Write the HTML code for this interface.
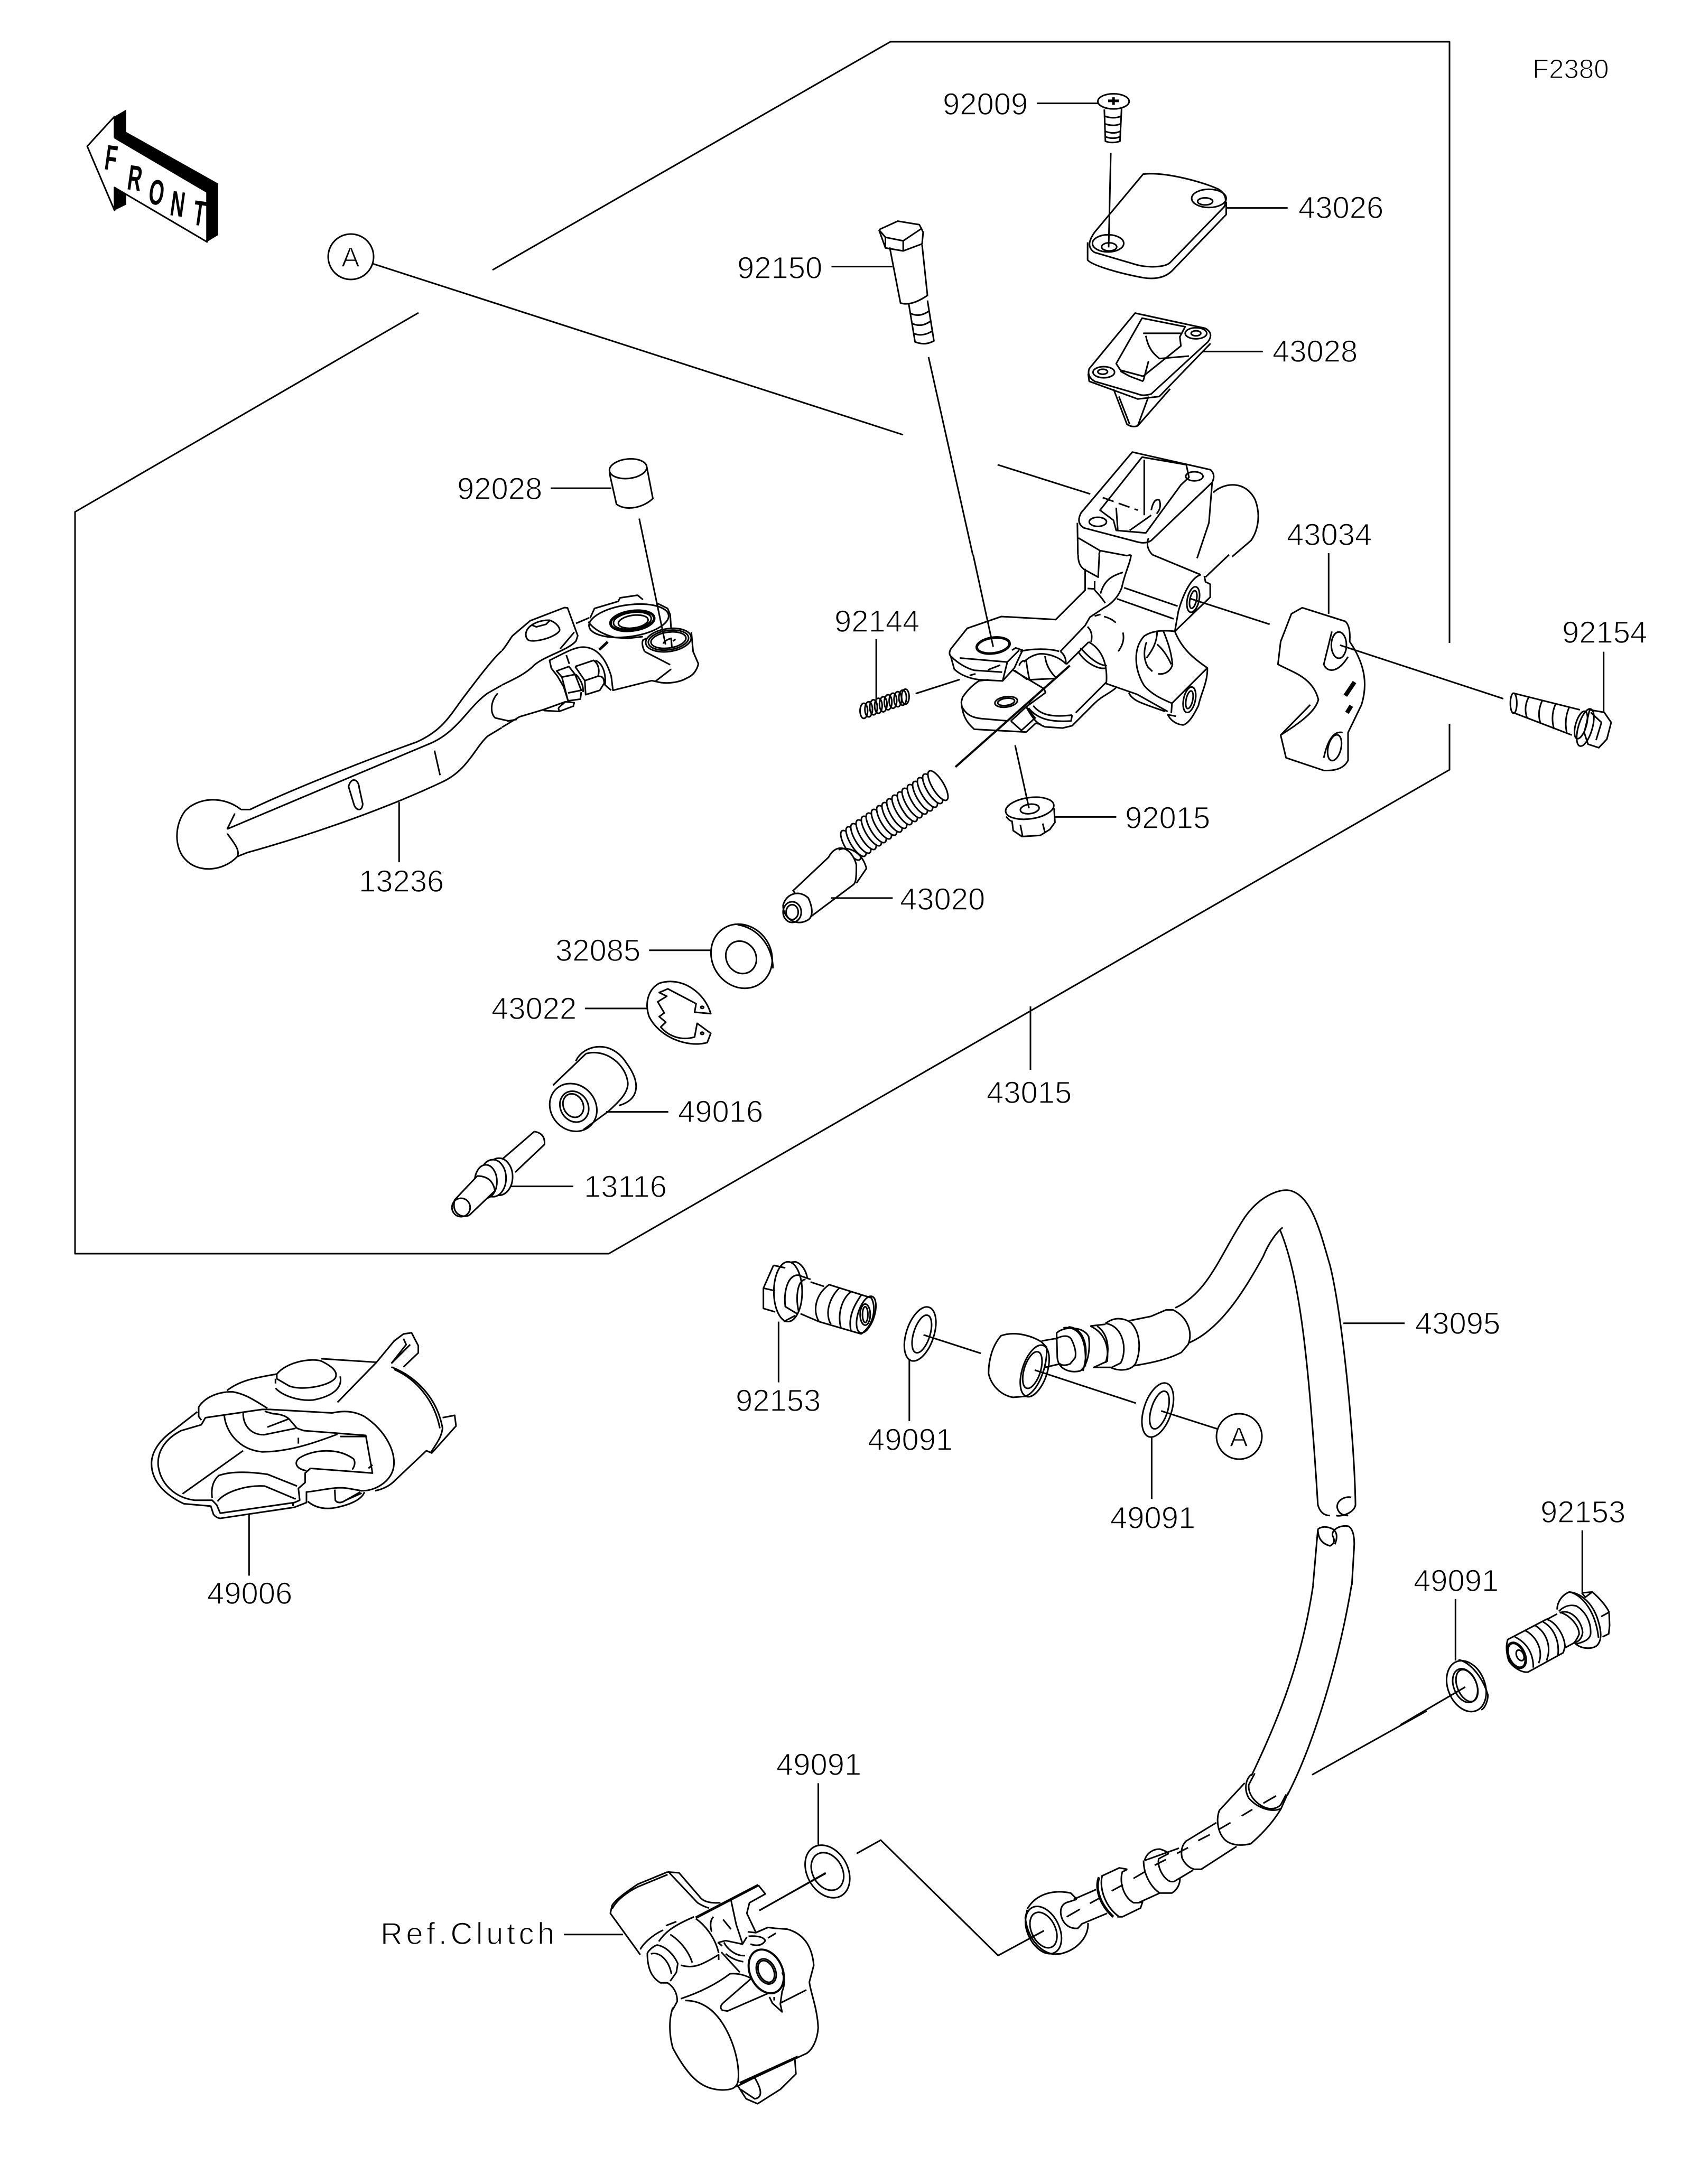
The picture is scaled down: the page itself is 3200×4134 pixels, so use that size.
<!DOCTYPE html>
<html><head><meta charset="utf-8">
<style>
html,body{margin:0;padding:0;background:#fff}
svg{display:block}
path,ellipse,line,polyline,circle,polygon{vector-effect:non-scaling-stroke}
.l{fill:none;stroke:#000;stroke-width:3;stroke-linejoin:round;stroke-linecap:butt}
.t{fill:none;stroke:#000;stroke-width:5;stroke-linejoin:round}
.w{fill:#fff;stroke:#000;stroke-width:3}
text{font-family:"Liberation Sans",sans-serif;font-size:58px;fill:#000;stroke:#fff;stroke-width:1.4}
.f{font-size:67px;font-weight:bold;stroke:none}
</style></head><body>
<svg xmlns="http://www.w3.org/2000/svg" width="3200" height="4134" viewBox="0 0 3200 4134">
<rect width="3200" height="4134" fill="#fff"/>

<!-- frame and long leaders -->
<path class="l" d="M932,511L1685,79H2743V1217M2743,1370V1457L1152,2373H142V969L792,592M705,499L1709,823"/>

<!-- lever and dowel -->
<g transform="translate(100 60) scale(.9566 1.0842)">
<path class="l" d="M372,1358C340,1335 290,1335 262,1360C240,1385 240,1425 262,1445C285,1468 335,1468 365,1440M365,1440L385,1433C500,1405 650,1360 770,1310C820,1290 835,1250 860,1230L888,1215M372,1358L390,1358C480,1320 640,1265 720,1240C770,1220 785,1195 810,1165C840,1130 870,1095 888,1081M888,1141L860,1155C820,1180 800,1225 740,1245L345,1392M345,1392L360,1365M345,1400C362,1420 370,1430 365,1440"/>
<path class="l" d="M585,1318C590,1300 605,1305 606,1320L613,1348C612,1362 600,1360 596,1350ZM755,1255L766,1298M880,1155C865,1170 865,1190 875,1198L900,1203"/>
<ellipse class="l" cx="1138" cy="763" rx="37" ry="17" transform="rotate(-5 1138 763)"/>
<path class="l" d="M1101,770L1115,825C1135,838 1170,830 1187,815L1175,760M985,797H1105M1160,850L1212,1070M685,1345V1450"/>
<polygon points="122,148 145,136 145,175 327,265 327,355 305,367 305,280 122,185" fill="#000"/>
<polygon points="122,272 145,285 145,302 122,312" fill="#000"/>
<path class="l" d="M122,185L122,148L68,200L122,312L122,272L305,367L305,280L122,185"/>
</g>
<text class="f" transform="translate(196 320) rotate(8) scale(.55 1)">F</text>
<text class="f" transform="translate(239 358) rotate(8) scale(.55 1)">R</text>
<text class="f" transform="translate(279 385) rotate(8) scale(.55 1)">O</text>
<text class="f" transform="translate(320 407) rotate(8) scale(.55 1)">N</text>
<text class="f" transform="translate(363 425) rotate(8) scale(.55 1)">T</text>

<!-- lever pivot -->
<g transform="translate(950 1080) scale(.3333)">
<path class="l" d="M0,455C30,420 50,380 60,370L160,285L355,210L372,212L430,370L420,400C380,450 230,490 180,540C130,590 60,620 0,650M420,300L495,268"/>
<path class="l" d="M135,360C140,310 210,280 270,282C310,295 335,330 325,345C290,385 180,410 150,395Q135,385 135,360ZM170,310L195,320L250,305L270,285M410,350L330,445"/>
<ellipse class="l" cx="720" cy="285" rx="228" ry="90" transform="rotate(-8 720 285)"/>
<path class="l" d="M500,270L525,215L660,175L670,155L770,140L800,165M880,185L940,215L955,250L960,330M490,290Q530,350 640,380L715,385L800,375"/>
<ellipse class="t" cx="740" cy="285" rx="125" ry="55" transform="rotate(-8 740 285)"/>
<ellipse class="l" cx="740" cy="285" rx="108" ry="47" transform="rotate(-8 740 285)"/>
<ellipse class="l" cx="745" cy="290" rx="85" ry="36" transform="rotate(-8 745 290)"/>
<ellipse class="l" cx="945" cy="395" rx="130" ry="65" transform="rotate(-8 945 395)"/>
<ellipse class="l" cx="945" cy="395" rx="115" ry="55" transform="rotate(-8 945 395)"/>
<ellipse class="l" cx="945" cy="395" rx="100" ry="45" transform="rotate(-8 945 395)"/>
<path class="l" d="M915,415Q925,395 960,385L965,440M970,400L985,390M1075,350L1085,460L1115,530Q1100,590 1050,610C1000,640 920,645 875,630L850,625L630,680L620,600C590,500 540,440 470,435C420,430 370,460 270,510L280,555L315,600L350,660L375,740L445,730L450,690M810,460L955,535M960,560L870,630M810,460Q790,420 800,395L820,385"/>
<path class="t" d="M552,450L600,405"/>
<path class="l" d="M365,480L382,530M310,570L380,545L415,590L340,605ZM340,605L375,740M415,590L450,680L375,695M415,545L520,510C550,530 555,570 545,600L470,625M415,545L470,625L475,705L555,680L580,640C580,600 560,600 545,600M420,590Q465,640 460,690M530,510C580,530 590,600 585,650L620,680M235,790L360,745L410,750L405,770L325,800L240,795ZM320,780L360,745M320,780L325,800M235,790L100,830L0,890M30,855L85,845"/>
</g>

<!-- top parts -->
<g transform="translate(1500 100) scale(1.0204 .9566)">
<ellipse class="l" cx="595" cy="96" rx="29" ry="15"/>
<path class="t" d="M585,95H605M595,88V103"/>
<path class="l" d="M578,112L580,175Q592,180 607,175L610,110M578,125Q595,132 610,125M578,140Q595,147 609,140M579,155Q595,162 608,155M580,166Q595,172 607,166M453,100H568M590,198L586,385"/>
<path class="l" d="M650,240C690,235 760,255 790,270C805,280 805,295 800,305L700,415C690,425 660,425 640,420L560,395C545,385 550,370 560,355ZM547,375L547,410C555,420 600,435 650,445C680,450 695,440 703,432L804,320V295M805,307H918"/>
<ellipse class="l" cx="772" cy="288" rx="32" ry="18"/><ellipse class="l" cx="765" cy="294" rx="14" ry="7"/>
<ellipse class="l" cx="585" cy="377" rx="29" ry="17"/><ellipse class="l" cx="587" cy="384" rx="14" ry="8"/>
<path class="l" d="M635,515L765,545Q782,555 770,572L665,675Q650,680 640,675L560,650Q545,640 550,625ZM648,525L728,542L718,562L720,580L650,640L608,628L600,615ZM650,555H720M655,560C660,590 675,600 680,605L735,600M660,610L650,650M608,630L625,640L650,650M595,665L620,735Q630,742 640,738L700,665M605,680L625,735M640,738L660,680M548,635L550,650L640,685L680,680L775,575M760,591H872"/>
<ellipse class="w" cx="577" cy="632" rx="20" ry="11"/><ellipse class="l" cx="575" cy="631" rx="9" ry="5"/>
<ellipse class="w" cx="748" cy="555" rx="20" ry="11"/><ellipse class="l" cx="748" cy="555" rx="9" ry="5"/>
<path class="l" d="M630,790L775,825Q785,835 778,850L665,965Q655,972 640,968L540,940Q525,930 535,910ZM648,800L730,815L735,840L720,855L655,950L600,945L595,925L570,905Z"/>
<ellipse class="l" cx="745" cy="838" rx="16" ry="9"/><ellipse class="l" cx="566" cy="928" rx="16" ry="9"/>
<path class="l" d="M652,805V915M600,900L603,945M625,945L665,915M665,905Q670,880 680,885Q685,900 675,912M380,815L552,873"/>
<path class="l" stroke-dasharray="22 10" d="M575,880L640,905"/>
<path class="l" d="M780,870C800,850 840,845 858,885C870,920 860,950 850,965L815,997M778,850L772,930L750,1000M528,930L529,993M530,960L570,985L620,995L627,993M570,985L568,993M660,960C655,975 660,985 667,993"/>
<!-- clamp -->
<path class="l" d="M945,1098L1025,1125Q1035,1135 1033,1165C1065,1215 1065,1255 1055,1290L1030,1345V1400Q1020,1422 985,1420L915,1395L905,1350C950,1320 970,1300 975,1280C965,1235 925,1225 900,1210L905,1165L925,1110ZM1000,1145L985,1210C990,1225 1010,1230 1030,1195M1020,1345C1000,1340 990,1370 985,1395M905,1350L960,1290"/>
<ellipse class="l" cx="1013" cy="1172" rx="14" ry="26"/><ellipse class="l" cx="1005" cy="1375" rx="12" ry="26" transform="rotate(12 1005 1375)"/>
<path d="M1025,1272L1042,1245M1028,1306L1036,1292" fill="none" stroke="#000" stroke-width="8" style="vector-effect:non-scaling-stroke"/>
<path class="l" d="M994,990V1110M1015,1172L1318,1278M252,602L334,993"/>
<!-- 92150 -->
<path class="l" d="M160,350L195,333L235,340L242,355L240,378L205,392L172,386L160,350M160,350L172,365L205,372L240,347M172,365V386M205,372V392M180,385L200,495Q220,502 250,480L240,380M215,495L227,572Q245,580 262,570L250,490M218,515Q235,525 254,510M221,535Q238,545 257,530M224,555Q240,563 260,550M72,423H185"/>
<!-- spring -->
<g class="l">
<ellipse cx="132" cy="1302" rx="7" ry="15"/><ellipse cx="141" cy="1299" rx="7" ry="15"/><ellipse cx="150" cy="1295" rx="7" ry="15"/><ellipse cx="159" cy="1292" rx="7" ry="15"/><ellipse cx="168" cy="1289" rx="7" ry="15"/><ellipse cx="177" cy="1285" rx="7" ry="15"/><ellipse cx="186" cy="1282" rx="7" ry="15"/><ellipse cx="195" cy="1279" rx="7" ry="15"/><ellipse cx="204" cy="1276" rx="7" ry="15"/><ellipse cx="209" cy="1274" rx="7" ry="15"/>
</g>
<path class="l" d="M155,1160V1280M228,1268L310,1240"/>
<!-- 92154 -->
<path class="l" d="M1340,1268L1460,1300M1335,1305L1445,1350M1365,1275Q1355,1295 1362,1316M1390,1282Q1380,1305 1387,1327M1415,1288Q1405,1312 1412,1338M1440,1295Q1430,1320 1436,1347M1478,1300L1505,1305L1518,1325L1510,1358L1495,1375L1475,1368L1468,1345L1478,1300ZM1480,1305L1500,1325L1490,1360M1504,1185V1305"/>
<ellipse class="l" cx="1337" cy="1287" rx="6" ry="20"/>
<ellipse class="l" cx="1470" cy="1335" rx="13" ry="38" transform="rotate(15 1470 1335)"/>
<ellipse class="l" cx="1462" cy="1330" rx="10" ry="28" transform="rotate(15 1462 1330)"/>
</g>

<!-- master cylinder body, fork, nut -->
<g transform="translate(1750 1050) scale(.4464)">
<path class="l" d="M205,0L290,390"/>
<path class="l" d="M650,0C650,35 660,50 675,62L735,95L740,0M680,60V150L555,275L325,262L180,312L110,400Q100,420 110,430L125,485C150,510 190,525 230,530L330,535L380,480L405,425L415,405L385,395L370,405M110,430C150,470 190,485 210,490L328,498M148,438L350,455M350,455L330,535M350,455L400,405M190,512L215,505M268,488L320,468"/>
<path class="l" d="M720,145L690,143M720,112V150M875,0C870,40 850,70 835,140C820,180 790,210 760,225L700,265L680,300L575,410M840,75C790,90 760,110 745,165M720,150Q745,175 765,205M845,140L1072,218M815,187L1055,272M965,0L1170,85M1170,85C1135,95 1100,150 1075,240L1060,325L1210,180V125L1190,115L1185,90M1190,95L1290,0"/>
<ellipse class="l" cx="1138" cy="190" rx="25" ry="55" transform="rotate(12 1138 190)"/>
<ellipse class="l" cx="1138" cy="190" rx="14" ry="38" transform="rotate(12 1138 190)"/>
<path class="l" d="M1122,185L1462,295M720,260L745,253M760,262Q790,270 810,288M840,330Q850,370 820,410M690,305Q715,330 705,370"/>
<path class="l" d="M1060,325C1000,318 960,325 930,345C880,400 890,490 930,555C960,590 1000,610 1048,630L1198,480C1200,540 1170,590 1160,640C1140,680 1120,715 1095,722C1065,720 1040,700 1030,678L1065,685M1060,325C1090,400 1140,440 1198,480M1048,630L1045,672M985,325C985,370 965,405 940,438M940,370Q920,430 945,475L965,495M1010,320C1030,370 1045,410 1050,465C1045,490 1020,510 990,505M985,380Q1020,410 1045,465"/>
<ellipse class="l" cx="1122" cy="615" rx="25" ry="55" transform="rotate(12 1122 615)"/>
<ellipse class="l" cx="1122" cy="615" rx="14" ry="38" transform="rotate(12 1122 615)"/>
<path class="l" d="M765,545L900,592L1030,665M865,585C880,620 920,630 1020,665M810,565C780,590 750,600 720,630L625,725L585,735L510,730C480,720 460,700 430,645M695,370L600,465M575,410Q600,430 598,462C570,435 530,420 490,420Q450,425 420,455M405,410C440,400 520,395 570,410M400,470Q410,445 430,450Q440,520 445,530L550,525M380,490L435,530M510,430Q515,480 555,520"/>
<ellipse class="t" cx="290" cy="385" rx="70" ry="33" transform="rotate(-8 290 385)"/>
<path class="l" d="M270,530L230,535Q190,560 160,605L155,625C160,680 175,710 210,740L430,752L470,715L490,718M155,640C170,670 190,690 240,695L355,705"/>
<ellipse class="l" cx="345" cy="624" rx="48" ry="22" transform="rotate(-8 345 624)"/>
<ellipse class="l" cx="345" cy="624" rx="36" ry="15" transform="rotate(-8 345 624)"/>
<path class="l" d="M365,705L430,645L512,585L505,565L440,630M365,705L410,745L470,690M430,645L470,695M460,640C490,680 540,690 625,680M440,650C480,700 540,710 620,705L625,680M500,565L375,490M650,410C680,460 740,490 770,480M660,395C700,440 740,470 772,470M695,370C750,400 775,460 770,540L640,670"/>
<path class="t" d="M130,900L615,470" style="stroke-width:4"/>
<ellipse class="l" cx="445" cy="1075" rx="103" ry="45" transform="rotate(-8 445 1075)"/>
<ellipse class="l" cx="445" cy="1078" rx="40" ry="20" transform="rotate(-8 445 1078)"/>
<path class="l" d="M345,1110Q360,1130 370,1130L375,1170L412,1195L490,1190L530,1165L552,1135L548,1075M405,1145L415,1195M500,1140L510,1180M383,808L442,1075M550,1112H812"/>
</g>

<!-- 43020 threads -->
<g class="w">
<ellipse cx="1610" cy="1600" rx="11" ry="32" transform="rotate(-31 1610 1600)"/><ellipse cx="1620" cy="1593" rx="11" ry="32" transform="rotate(-31 1620 1593)"/><ellipse cx="1629" cy="1587" rx="11" ry="32" transform="rotate(-31 1629 1587)"/><ellipse cx="1639" cy="1580" rx="11" ry="32" transform="rotate(-31 1639 1580)"/><ellipse cx="1649" cy="1573" rx="11" ry="32" transform="rotate(-31 1649 1573)"/><ellipse cx="1658" cy="1567" rx="11" ry="32" transform="rotate(-31 1658 1567)"/><ellipse cx="1668" cy="1560" rx="11" ry="32" transform="rotate(-31 1668 1560)"/><ellipse cx="1678" cy="1553" rx="11" ry="32" transform="rotate(-31 1678 1553)"/><ellipse cx="1688" cy="1547" rx="11" ry="32" transform="rotate(-31 1688 1547)"/><ellipse cx="1697" cy="1540" rx="11" ry="32" transform="rotate(-31 1697 1540)"/><ellipse cx="1707" cy="1533" rx="11" ry="32" transform="rotate(-31 1707 1533)"/><ellipse cx="1717" cy="1527" rx="11" ry="32" transform="rotate(-31 1717 1527)"/><ellipse cx="1726" cy="1520" rx="11" ry="32" transform="rotate(-31 1726 1520)"/><ellipse cx="1736" cy="1513" rx="11" ry="32" transform="rotate(-31 1736 1513)"/><ellipse cx="1746" cy="1507" rx="11" ry="32" transform="rotate(-31 1746 1507)"/><ellipse cx="1755" cy="1500" rx="11" ry="32" transform="rotate(-31 1755 1500)"/><ellipse cx="1765" cy="1493" rx="11" ry="32" transform="rotate(-31 1765 1493)"/><ellipse cx="1775" cy="1487" rx="11" ry="32" transform="rotate(-31 1775 1487)"/>
</g>

<!-- left stack -->
<g transform="translate(200 1300) scale(.9566 .7015)">
<path class="w" d="M1430,460C1445,420 1475,430 1485,480C1485,510 1485,530 1478,535L1395,620L1360,550Z"/>
<path class="l" d="M1450,440C1465,430 1495,440 1505,490L1485,530M1435,570H1557"/>
<path class="w" d="M1340,590C1345,560 1370,545 1390,570C1400,600 1400,625 1385,632C1365,645 1340,625 1340,590Z"/>
<ellipse class="l" cx="1358" cy="608" rx="18" ry="28"/><ellipse class="l" cx="1358" cy="608" rx="12" ry="20"/>
<ellipse class="l" cx="1258" cy="727" rx="60" ry="87" transform="rotate(-8 1258 727)"/>
<path class="l" d="M1250,642C1290,650 1320,700 1320,760"/>
<ellipse class="l" cx="1257" cy="730" rx="30" ry="44" transform="rotate(-8 1257 730)"/>
<path class="l" d="M1075,711H1197"/>
<path class="l" d="M1197,882L1165,878L1168,855L1112,815L1095,825L1110,835L1092,850L1105,880L1095,890L1108,905L1098,918C1115,945 1140,955 1165,945L1170,908L1197,935L1190,960C1150,975 1095,945 1075,890C1065,850 1075,815 1095,800C1140,780 1185,825 1197,882ZM948,868H1072"/>
<circle class="l" cx="1180" cy="865" r="3"/><circle class="l" cx="1180" cy="935" r="3"/>
<path class="l" d="M930,1010C945,965 1000,950 1030,1015C1060,1070 1055,1115 1015,1130M950,990C990,975 1030,1020 1033,1070C1033,1100 1010,1125 995,1145M950,990L885,1075M995,1145L945,1195M990,1147H1113"/>
<ellipse class="l" cx="925" cy="1135" rx="46" ry="65" transform="rotate(-10 925 1135)"/>
<ellipse class="l" cx="927" cy="1133" rx="28" ry="42" transform="rotate(-10 927 1133)"/>
<ellipse class="l" cx="925" cy="1130" rx="20" ry="32" transform="rotate(-10 925 1130)"/>
<path class="l" d="M848,1200Q870,1205 868,1235L810,1310M848,1200L780,1280"/>
<ellipse class="w" cx="778" cy="1322" rx="27" ry="50"/>
<ellipse class="w" cx="766" cy="1326" rx="26" ry="50"/>
<ellipse class="w" cx="752" cy="1335" rx="22" ry="45"/>
<path class="w" d="M735,1320L690,1385Q685,1420 705,1428Q715,1430 720,1425L770,1360Q765,1320 735,1320Z"/>
<ellipse class="l" cx="703" cy="1405" rx="18" ry="25"/>
<path class="l" d="M800,1348H925"/>
</g>

<!-- upper hose -->
<g transform="translate(1300 2200) scale(1.148 .574)">
<path class="l" d="M1082,531H1183"/>
<path class="l" d="M805,480C860,430 880,300 920,180C945,110 975,90 990,92C1030,100 1045,240 1060,340C1080,500 1100,900 1102,1130C1100,1155 1080,1170 1070,1165M828,595C880,550 920,420 950,310C960,260 975,225 982,215M978,225C1010,380 1025,650 1040,1130Q1045,1165 1060,1165M1072,1140C1070,1115 1085,1100 1095,1105M1072,1140Q1075,1165 1090,1165M1040,1210Q1040,1255 1060,1265Q1070,1255 1065,1235C1060,1215 1075,1195 1090,1200Q1100,1210 1100,1260M1040,1210Q1050,1195 1065,1210Q1075,1225 1068,1260M1040,1210L1032,1394M1100,1260L1096,1394"/>
</g>

<!-- banjo, bolt, washers -->
<g transform="translate(1400 2350) scale(.6378 .3333)">
<path class="l" d="M100,135L70,265V380L105,400M100,135L135,150M70,265L105,280"/>
<ellipse class="l" cx="143" cy="285" rx="42" ry="170"/>
<path class="l" d="M150,118L165,115C190,130 200,190 200,210M165,420L130,455M172,190C140,195 130,290 135,370L170,410M195,215C170,220 165,320 175,400M172,190L210,215M210,230L250,255M180,410L235,455"/>
<path class="l" d="M265,245L390,320C405,370 400,470 360,525L235,455C215,390 225,300 265,245ZM295,265C270,310 250,400 270,470M330,285C300,330 290,420 300,490M360,305C340,360 320,430 330,510"/>
<ellipse class="l" cx="375" cy="415" rx="25" ry="105" transform="rotate(8 375 415)"/>
<ellipse class="l" cx="372" cy="415" rx="15" ry="60"/><ellipse class="l" cx="372" cy="415" rx="8" ry="45"/>
<path class="l" d="M115,455V800"/>
<ellipse class="l" cx="535" cy="525" rx="42" ry="155" transform="rotate(8 535 525)"/>
<ellipse class="l" cx="540" cy="525" rx="25" ry="108" transform="rotate(8 540 525)"/>
<path class="l" d="M545,530L715,635M503,670V1020"/>
<ellipse class="l" cx="1240" cy="957" rx="42" ry="155" transform="rotate(8 1240 957)"/>
<ellipse class="l" cx="1245" cy="957" rx="25" ry="108" transform="rotate(8 1245 957)"/>
<path class="l" d="M1250,962L1418,1065M875,730L1175,918M1222,1110V1462"/>
<path class="l" d="M775,535C820,505 870,540 895,570L910,600C915,700 885,860 845,880L810,885C770,870 745,810 738,750C738,670 750,590 775,535Z"/>
<ellipse class="l" cx="875" cy="735" rx="38" ry="148" transform="rotate(8 875 735)"/>
<ellipse class="l" cx="868" cy="730" rx="25" ry="105" transform="rotate(8 868 730)"/>
<path class="l" d="M895,565L940,550Q975,520 985,560Q1000,620 995,660L980,695Q960,710 950,695L905,715M940,520C960,480 1020,480 1035,540C1040,600 1035,700 1010,735C975,750 945,720 942,660ZM960,490C1010,480 1030,560 1025,710M975,485C1020,490 1040,600 1018,735M1040,480L1085,470M1040,480C1085,520 1095,600 1090,680L1050,715L1105,715M1060,480C1090,520 1100,600 1085,690M1085,465C1110,430 1135,430 1160,460C1190,520 1190,620 1175,690C1160,740 1120,735 1100,715M1085,465C1140,480 1150,620 1130,690L1100,718M1155,450L1220,425L1265,388L1285,388C1330,430 1345,520 1330,585L1310,630C1270,670 1220,690 1170,705"/>
</g>

<!-- 92153 lower, 49091 -->
<g transform="translate(2650 2900) scale(.3333)">
<path class="l" d="M1033,-10V345L1090,340C1130,375 1170,420 1185,455L1188,530L1183,578L1148,595M1030,345L1050,370L1090,340M1140,480L1185,455"/>
<path class="l" d="M890,440C890,395 920,355 960,340C1040,350 1100,420 1125,510C1140,560 1145,610 1120,640C1100,665 1030,670 990,630M960,340C1040,360 1110,460 1125,600M900,450C930,420 965,410 1000,420C1050,450 1085,510 1080,580C1075,610 1040,625 1000,635M905,460C960,430 1030,500 1035,570C1030,610 1010,620 990,630M890,465L830,497M905,455C960,470 1015,530 1015,580Q1000,615 985,630L930,660"/>
<path class="l" d="M610,610L830,495C880,510 930,580 935,650L925,685L725,795C690,800 640,770 615,730C600,680 600,640 610,610ZM650,595C720,630 755,690 755,770M710,560C770,590 815,670 785,745M765,530C830,570 860,650 830,730M810,510C865,540 905,610 895,700"/>
<ellipse class="t" cx="660" cy="700" rx="45" ry="75" transform="rotate(-25 660 700)"/>
<ellipse class="l" cx="680" cy="700" rx="20" ry="32" transform="rotate(-25 680 700)"/>
<ellipse class="l" cx="375" cy="875" rx="105" ry="150" transform="rotate(-22 375 875)"/>
<path class="l" d="M330,725C400,740 470,830 497,925C497,960 480,1000 460,1010"/>
<ellipse class="l" cx="368" cy="872" rx="65" ry="100" transform="rotate(-22 368 872)"/>
<ellipse class="l" cx="378" cy="872" rx="55" ry="95" transform="rotate(-22 378 872)"/>
<path class="l" d="M0,1095L368,880M313,380V730"/>
</g>

<!-- 49006 -->
<g transform="translate(200 2400) scale(.51 .4464)">
<path class="l" d="M340,610L250,690C200,730 170,780 170,830C170,900 215,960 290,1000L390,1010L400,1045Q410,1060 425,1062L700,1015L745,995V950C800,945 850,925 900,935L950,945C1000,945 1050,910 1065,860C1085,790 1040,690 960,630C920,605 880,605 840,615L610,600L580,600L370,635L355,665L280,690C220,725 190,780 195,840C205,920 260,975 330,985L395,985L412,1005L425,1040L700,995L720,985L715,935L740,910V870L760,850L990,870L965,710L735,690L710,680L680,640Q660,620 620,618L590,608"/>
<path class="l" d="M635,450C670,400 760,380 800,395C845,420 865,445 850,470C820,505 720,520 680,500L635,470ZM630,510C660,545 720,565 770,560C840,545 880,510 870,460M630,470V490M450,520C500,475 560,465 635,450M800,385L1005,400M1005,400L860,570M1005,400L1070,310L1105,280L1135,275L1160,330V360L1105,420M1060,405L1115,325L1105,300M1060,405L1130,325M1060,420C1150,460 1230,550 1250,680C1245,720 1230,740 1205,785M1070,430C1150,470 1220,560 1240,680M1250,635L1295,625L1300,670L1210,785L1190,775L1065,910Q1040,935 1000,945M345,590C370,545 420,525 470,525C520,535 550,560 600,595M345,590V630L355,645"/>
<path class="l" d="M440,625C445,690 490,770 580,780C680,780 780,740 860,705M510,615C510,680 550,710 590,707L705,680M600,675L680,640M715,720V745M510,775L285,958M745,860C700,850 700,820 720,805C770,770 860,760 920,810Q930,830 915,855M975,850L990,835M870,715H965M395,975C390,930 400,900 420,880C470,860 540,865 600,875L710,925M415,990C440,950 520,920 590,925L705,980M695,995V1010M750,990C780,1020 820,1025 860,1015C900,1005 950,985 960,950M850,940L852,985Q860,1000 880,992L945,950M890,985L950,955M532,1045V1305"/>
</g>

<!-- lower hose, washer, polyline, mount -->
<g transform="translate(1000 3000) scale(1.084 .7232)">
<path class="l" d="M1370,0C1350,200 1310,350 1262,500M1437,0C1415,200 1370,420 1325,550"/>
<path class="l" d="M900,905L820,970L615,668L573,703M1368,497L1568,330"/>
<ellipse class="l" cx="522" cy="750" rx="37" ry="70" transform="rotate(-12 522 750)"/>
<ellipse class="l" cx="522" cy="750" rx="27" ry="50" transform="rotate(-12 522 750)"/>
<path class="l" d="M519,755L403,852M506,519V680M62,915H165"/>
<path class="l" d="M365,1310L380,1345L400,1358L440,1320L467,1280L465,1240M395,1290Q415,1340 395,1345L370,1320"/>
</g>

<!-- hose fitting -->
<g transform="translate(1900 3300) scale(.3827 .3333)">
<path class="l" d="M1225,175C1195,200 1185,260 1210,310C1250,365 1320,395 1370,370L1405,280M1240,170L1210,235C1205,300 1260,360 1310,370Q1350,375 1370,345L1395,290M1190,225L1065,380C1045,440 1060,520 1100,555Q1145,590 1220,570C1280,510 1335,440 1370,370M1050,450L900,555Q870,590 880,650Q900,700 940,715L975,715L1150,585"/>
<path class="l" d="M695,665L865,595M695,665C705,620 740,600 770,600Q800,610 815,625M690,665C690,750 730,820 770,850L830,850Q870,820 870,765M815,625L765,655C755,700 790,775 825,785L840,785L935,720M480,755L570,707L610,715M610,715L585,730C570,790 590,870 640,905L665,905L770,850M665,905L685,900L675,935L585,985L560,985M485,755C470,820 500,930 570,985"/>
<path class="t" d="M470,760C450,820 470,910 540,985"/>
<path class="l" d="M345,885L455,830M360,885L320,900Q280,910 280,960C285,1020 320,1055 365,1050L385,1025L510,965M115,940C160,850 250,830 330,850L360,885M415,1020C420,1090 370,1170 280,1195L245,1197C195,1190 120,1130 105,990L115,945"/>
<ellipse class="l" cx="195" cy="1060" rx="80" ry="140" transform="rotate(-20 195 1060)"/>
<ellipse class="l" cx="195" cy="1060" rx="60" ry="105" transform="rotate(-20 195 1060)"/>
<path class="l" d="M310,985L375,942M425,908L470,880M532,838L588,803M640,767L695,730M745,692L800,660M855,625L910,592M960,552L1018,518M1065,487L1120,450M1175,412L1228,375M1282,340L1345,298"/>
</g>

<!-- ref clutch -->
<g transform="translate(1100 3450) scale(.3333)">
<path class="l" d="M1388,285L1015,497M490,280L320,350C270,385 200,430 175,470L165,515L335,750M490,295L320,365C260,395 200,440 175,490M490,280L555,285L680,430Q710,460 790,455M500,285L660,455Q690,475 725,485"/>
<path class="t" d="M650,540L1005,355"/>
<path class="l" d="M1005,355L1045,405L955,455L940,515L985,610L990,620M850,440L880,580L915,685M650,545C700,580 760,650 780,740M480,585L540,562M335,720C350,690 400,640 465,610M440,675C470,630 510,590 640,535M505,635C560,670 610,730 630,795M750,535Q725,560 740,620M805,550L850,605M565,810C640,830 680,810 780,750V780M780,680L820,670L915,690L940,650M775,680L800,700M945,620L990,625L1060,595L1100,600L1170,605C1260,630 1310,700 1320,810L1295,905C1300,960 1340,1050 1345,1165C1340,1240 1310,1290 1280,1310L1000,1440L880,1500M950,645Q1030,640 1045,670Q1020,710 960,690M1060,655L1105,628M810,680C830,720 880,760 930,755M795,735L900,850M820,745Q860,780 920,790M845,858C890,855 930,865 965,885"/>
<path class="l" d="M375,740Q400,705 430,695C490,705 530,760 548,800L540,850L505,900M375,740C375,830 400,880 450,910L490,910C520,930 545,960 545,1015L520,1060M395,745C450,730 500,790 512,860M565,1000C640,975 750,930 845,858M590,1010C680,1010 760,1060 820,1170C880,1280 900,1400 890,1470C880,1510 850,1518 800,1518C700,1515 620,1470 520,1280C500,1210 495,1120 520,1050M965,885L810,1020Q780,1045 800,1065L830,1070L1060,970"/>
<ellipse class="t" cx="1050" cy="845" rx="92" ry="130" transform="rotate(-25 1050 845)" style="stroke-width:4"/>
<ellipse class="l" cx="1050" cy="845" rx="52" ry="75" transform="rotate(-25 1050 845)"/>
<ellipse class="l" cx="1050" cy="845" rx="42" ry="65" transform="rotate(-25 1050 845)"/>
<path class="l" d="M1140,850Q1165,900 1140,960L1130,1030L1140,1075L1085,1025L1068,990M1095,990V1010M1130,1025L1278,950"/>
<path class="t" d="M900,1480L1230,1330"/>
</g>

<!-- circles -->
<circle class="l" cx="664" cy="486" r="43"/>
<circle class="l" cx="2345" cy="2719" r="43"/>
<text x="646" y="505" style="font-size:52px">A</text>
<text x="2327" y="2738" style="font-size:52px">A</text>

<!-- labels -->
<text x="2900" y="148" style="font-size:51px">F2380</text>
<text x="1784" y="217">92009</text>
<text x="2457" y="413">43026</text>
<text x="2408" y="685">43028</text>
<text x="2435" y="1032">43034</text>
<text x="2956" y="1217">92154</text>
<text x="2129" y="1568">92015</text>
<text x="1579" y="1196">92144</text>
<text x="1395" y="527">92150</text>
<text x="865" y="945">92028</text>
<text x="679" y="1688">13236</text>
<text x="1051" y="1819">32085</text>
<text x="930" y="1929">43022</text>
<text x="1283" y="2124">49016</text>
<text x="1105" y="2266">13116</text>
<text x="1703" y="1722">43020</text>
<text x="1867" y="2088">43015</text>
<text x="1392" y="2671">92153</text>
<text x="1642" y="2745">49091</text>
<text x="2101" y="2893">49091</text>
<text x="2678" y="2525">43095</text>
<text x="2915" y="2882">92153</text>
<text x="2675" y="3012">49091</text>
<text x="392" y="3036">49006</text>
<text x="1469" y="3360">49091</text>
<text x="720" y="3680" style="letter-spacing:6.5px">Ref.Clutch</text>
<path class="l" d="M1950,1905V2025"/>
</svg>
</body></html>
